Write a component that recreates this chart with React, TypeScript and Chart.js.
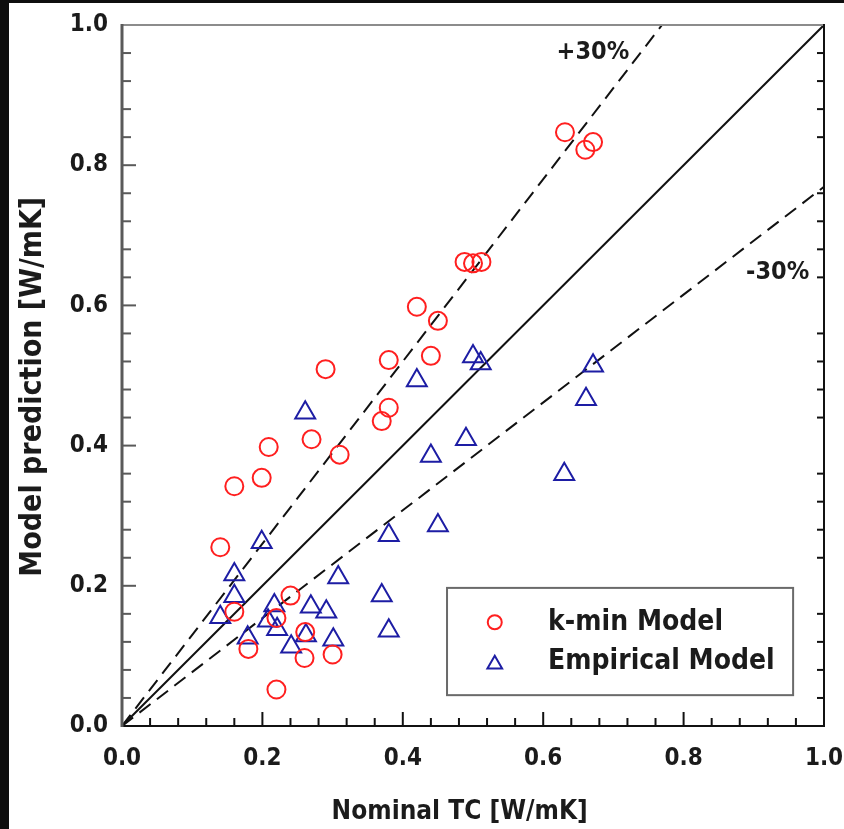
import { useEffect, useRef } from "react";
import { Chart, registerables } from "chart.js";

Chart.register(...registerables);

// Measured thermal conductivity vs. model predictions [W/mK]
const kMinNominal = [
  0.631, 0.66, 0.671, 0.488, 0.5, 0.512, 0.42, 0.45, 0.38, 0.44, 0.29, 0.38, 0.37, 0.27,
  0.31, 0.209, 0.199, 0.16, 0.14, 0.16, 0.24, 0.22, 0.18, 0.261, 0.26, 0.3, 0.22,
];
const kMinPredicted = [
  0.847, 0.822, 0.833, 0.662, 0.66, 0.662, 0.598, 0.578, 0.522, 0.528, 0.509, 0.454, 0.435,
  0.409, 0.387, 0.398, 0.354, 0.342, 0.255, 0.163, 0.186, 0.154, 0.11, 0.134, 0.097, 0.102,
  0.052,
];
const empiricalNominal = [
  0.5, 0.511, 0.42, 0.671, 0.661, 0.49, 0.44, 0.63, 0.45, 0.38, 0.261, 0.199, 0.16, 0.16,
  0.14, 0.308, 0.37, 0.38, 0.217, 0.269, 0.291, 0.208, 0.221, 0.179, 0.262, 0.301, 0.241,
];
const empiricalPredicted = [
  0.527, 0.517, 0.493, 0.514, 0.466, 0.409, 0.385, 0.359, 0.286, 0.272, 0.447, 0.262, 0.216,
  0.185, 0.155, 0.212, 0.186, 0.136, 0.172, 0.17, 0.163, 0.15, 0.138, 0.126, 0.129, 0.123,
  0.113,
];

const majorTicks = [0, 0.2, 0.4, 0.6, 0.8, 1.0];
const minorTicks = [
  0.04, 0.08, 0.12, 0.16, 0.24, 0.28, 0.32, 0.36, 0.44, 0.48, 0.52, 0.56, 0.64, 0.68, 0.72,
  0.76, 0.84, 0.88, 0.92, 0.96,
];
const bandFactor = 1.3;
const bandLabels = ["+30%", "-30%"];
const seriesNames = ["k-min Model", "Empirical Model"];
const xTitle = "Nominal TC [W/mK]";
const yTitle = "Model prediction [W/mK]";

const FAMILY = "'DejaVu Sans Condensed', 'DejaVu Sans', sans-serif";
const TEXT = "#1b1b1b";
const RED = "#ff1f1f";
const BLUE = "#1d1da4";

const framePlugin = {
  id: "frameAndNotes",
  afterDatasetsDraw(chart: any) {
    const { ctx, chartArea, scales } = chart;
    const { left, right, top, bottom } = chartArea;
    const x = scales.x;
    const y = scales.y;
    const seg = (x1: number, y1: number, x2: number, y2: number) => {
      ctx.beginPath();
      ctx.moveTo(x1, y1);
      ctx.lineTo(x2, y2);
      ctx.stroke();
    };
    ctx.save();
    ctx.lineCap = "butt";

    // frame
    ctx.lineWidth = 2;
    ctx.strokeStyle = "#8c8c8c";
    seg(left, top, right, top);
    ctx.strokeStyle = "#111";
    seg(left, bottom, right + 1, bottom);
    seg(right, top - 1, right, bottom);
    ctx.strokeStyle = "#5a5a5a";
    ctx.lineWidth = 3;
    seg(left, top - 1, left, bottom + 1);

    // inward ticks
    ctx.lineWidth = 2;
    minorTicks.forEach((v) => {
      const py = y.getPixelForValue(v);
      const px = x.getPixelForValue(v);
      ctx.strokeStyle = "#5a5a5a";
      seg(left, py, left + 9, py);
      ctx.strokeStyle = "#111";
      seg(right, py, right - 7, py);
      seg(px, bottom, px, bottom - 8);
    });
    majorTicks.slice(1, -1).forEach((v) => {
      const py = y.getPixelForValue(v);
      const px = x.getPixelForValue(v);
      ctx.strokeStyle = "#5a5a5a";
      seg(left, py, left + 14, py);
      ctx.strokeStyle = "#111";
      seg(px, bottom, px, bottom - 14);
    });

    // axis titles
    ctx.fillStyle = TEXT;
    ctx.font = `bold 26px ${FAMILY}`;
    ctx.textAlign = "center";
    ctx.textBaseline = "alphabetic";
    ctx.fillText(xTitle, x.getPixelForValue(0.481), chart.height - 10);

    ctx.save();
    ctx.translate(24, y.getPixelForValue(0.484));
    ctx.rotate(-Math.PI / 2);
    ctx.font = `bold 30px ${FAMILY}`;
    ctx.textBaseline = "middle";
    ctx.fillText(yTitle, 0, 0);
    ctx.restore();

    // band labels
    ctx.font = `bold 25px ${FAMILY}`;
    ctx.textBaseline = "alphabetic";
    ctx.textAlign = "left";
    ctx.fillText(bandLabels[0], x.getPixelForValue(0.619), y.getPixelForValue(0.952));
    ctx.fillText(bandLabels[1], x.getPixelForValue(0.889), y.getPixelForValue(0.637));

    // legend
    const bx1 = x.getPixelForValue(0.463);
    const bx2 = x.getPixelForValue(0.956);
    const by1 = y.getPixelForValue(0.197);
    const by2 = y.getPixelForValue(0.044);
    ctx.fillStyle = "#fff";
    ctx.fillRect(bx1, by1, bx2 - bx1, by2 - by1);
    ctx.strokeStyle = "#6a6a6a";
    ctx.lineWidth = 2;
    ctx.strokeRect(bx1, by1, bx2 - bx1, by2 - by1);

    const mx = x.getPixelForValue(0.531);
    const tx = x.getPixelForValue(0.607);
    const r1 = y.getPixelForValue(0.148);
    const r2 = y.getPixelForValue(0.091);

    ctx.strokeStyle = RED;
    ctx.lineWidth = 2;
    ctx.beginPath();
    ctx.arc(mx, r1, 7, 0, Math.PI * 2);
    ctx.stroke();

    const tr = 8.5;
    ctx.strokeStyle = BLUE;
    ctx.beginPath();
    for (let i = 0; i < 3; i++) {
      const a = (i * 2 * Math.PI) / 3;
      const px = mx + Math.sin(a) * tr;
      const py = r2 + 2 - Math.cos(a) * tr;
      if (i === 0) ctx.moveTo(px, py);
      else ctx.lineTo(px, py);
    }
    ctx.closePath();
    ctx.stroke();

    ctx.fillStyle = TEXT;
    ctx.font = `bold 28px ${FAMILY}`;
    ctx.textBaseline = "middle";
    ctx.fillText(seriesNames[0], tx, r1);
    ctx.fillText(seriesNames[1], tx, r2);
    ctx.restore();
  },
};

export default function App() {
  const ref = useRef<HTMLCanvasElement | null>(null);

  useEffect(() => {
    if (!ref.current) return;
    const toPoints = (xs: number[], ys: number[]) => xs.map((v, i) => ({ x: v, y: ys[i] }));
    const chart = new Chart(ref.current, {
      type: "scatter",
      data: {
        datasets: [
          {
            label: seriesNames[0],
            data: toPoints(kMinNominal, kMinPredicted),
            pointStyle: "circle",
            pointRadius: 9,
            pointBorderWidth: 2,
            borderColor: RED,
            backgroundColor: "rgba(0,0,0,0)",
          },
          {
            label: seriesNames[1],
            data: toPoints(empiricalNominal, empiricalPredicted),
            pointStyle: "triangle",
            pointRadius: 11.5,
            pointBorderWidth: 2,
            borderColor: BLUE,
            backgroundColor: "rgba(0,0,0,0)",
          },
          {
            label: "1:1",
            data: [
              { x: 0, y: 0 },
              { x: 1, y: 1 },
            ],
            showLine: true,
            pointRadius: 0,
            borderColor: "#111",
            borderWidth: 2,
          },
          {
            label: bandLabels[0],
            data: [
              { x: 0, y: 0 },
              { x: 1 / bandFactor, y: 1 },
            ],
            showLine: true,
            pointRadius: 0,
            borderColor: "#111",
            borderWidth: 2,
            borderDash: [14, 8],
          },
          {
            label: bandLabels[1],
            data: [
              { x: 0, y: 0 },
              { x: 1, y: 1 / bandFactor },
            ],
            showLine: true,
            pointRadius: 0,
            borderColor: "#111",
            borderWidth: 2,
            borderDash: [14, 8],
          },
        ],
      },
      options: {
        animation: false,
        responsive: false,
        layout: { padding: { top: 22, right: 20, left: 0, bottom: 0 } },
        plugins: {
          legend: { display: false },
          tooltip: { enabled: false },
        },
        scales: {
          x: {
            type: "linear",
            position: "bottom",
            min: 0,
            max: 1,
            afterFit: (s: any) => {
              s.height = 103;
              s.paddingLeft = 0;
              s.paddingRight = 0;
            },
            afterBuildTicks: (s: any) => {
              s.ticks = majorTicks.map((v) => ({ value: v }));
            },
            ticks: {
              padding: 18,
              color: TEXT,
              font: { family: FAMILY, size: 24, weight: "bold" },
              callback: (v: any) => Number(v).toFixed(1),
            },
            grid: { display: false, drawTicks: false },
            border: { display: false },
            title: { display: false },
          },
          y: {
            type: "linear",
            position: "left",
            min: 0,
            max: 1,
            afterFit: (s: any) => {
              s.width = 113;
              s.paddingTop = 0;
              s.paddingBottom = 0;
            },
            afterBuildTicks: (s: any) => {
              s.ticks = majorTicks.map((v) => ({ value: v }));
            },
            ticks: {
              padding: 14,
              color: TEXT,
              font: { family: FAMILY, size: 24, weight: "bold" },
              callback: (v: any) => Number(v).toFixed(1),
            },
            grid: { display: false, drawTicks: false },
            border: { display: false },
            title: { display: false },
          },
        },
      },
      plugins: [framePlugin],
    });
    return () => chart.destroy();
  }, []);

  return (
    <div
      style={{
        position: "fixed",
        left: 0,
        top: 0,
        width: 844,
        height: 829,
        background: "#0e0e0e",
        overflow: "hidden",
      }}
    >
      <canvas
        ref={ref}
        width={835}
        height={826}
        style={{ position: "absolute", left: 9, top: 3, background: "#fff", display: "block" }}
      />
    </div>
  );
}
